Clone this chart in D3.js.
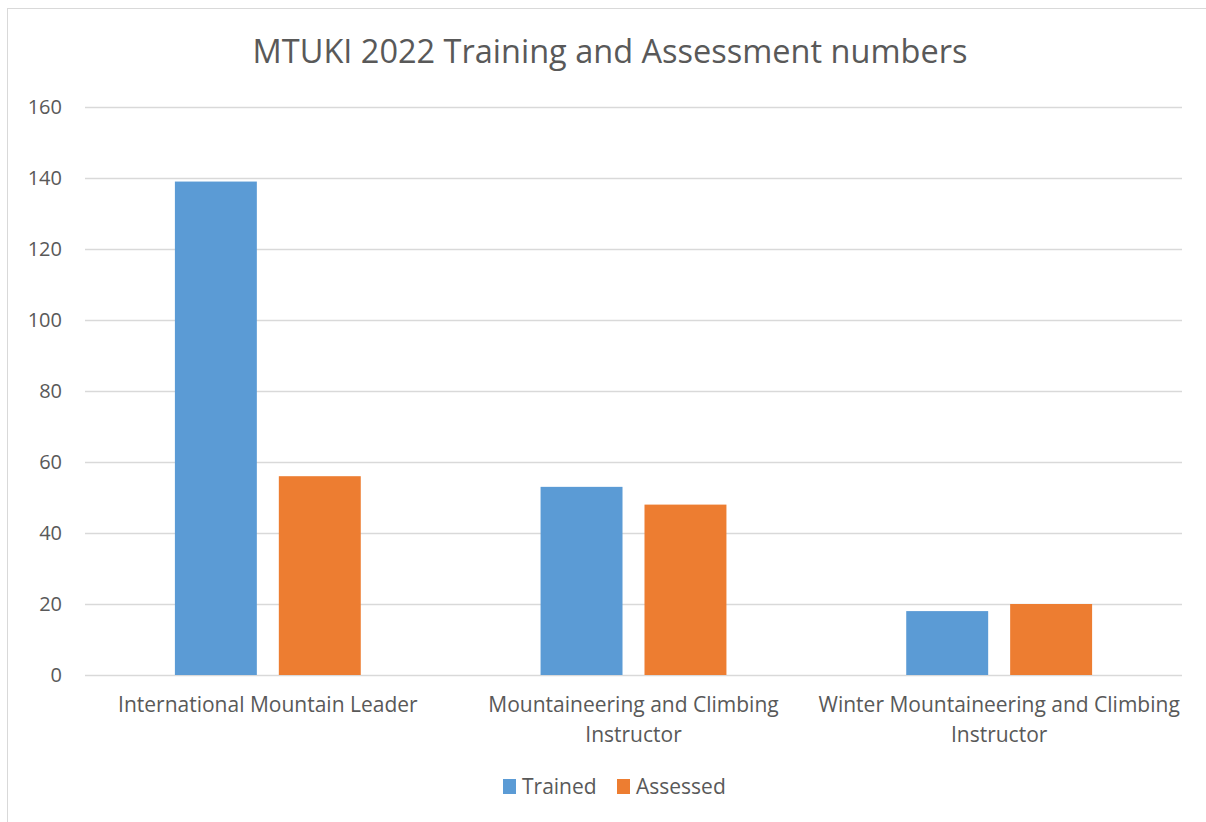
<!DOCTYPE html>
<html>
<head>
<meta charset="utf-8">
<script src="https://cdn.jsdelivr.net/npm/d3@7"></script>
<style>
  body { margin: 0; background: #fff; }
  svg { display: block; font-family: "Open Sans", sans-serif; }
</style>
</head>
<body>
<div id="chart"></div>
<script>
(() => {

  let categories = [
    "International Mountain Leader",
    "Mountaineering and Climbing Instructor",
    "Winter Mountaineering and Climbing Instructor"
  ]
  let series = ["Trained", "Assessed"]
  let trained = [139, 53, 18]
  let assessed = [56, 48, 20]
  let y_ticks = [0, 20, 40, 60, 80, 100, 120, 140, 160]
  let colors = ["#5b9bd5", "#ed7d31"]

  let svg = d3.select("#chart")
  .append("svg")
  .attr("width", 1206)
  .attr("height", 822)

  // chart area border
  svg.append("rect")
  .attr("x", 7.5)
  .attr("y", 8.5)
  .attr("width", 1230)
  .attr("height", 830)
  .style("fill", "none")
  .style("stroke", "#d9d9d9")

  let margin = {top: 107, right: 24, bottom: 147, left: 85}
  let width = 1206 - margin.left - margin.right
  let height = 822 - margin.top - margin.bottom

  let g = svg.append("g")
  .attr("transform", "translate(" + margin.left + "," + margin.top + ")")

  let x0 = d3.scaleBand()
  .domain(categories)
  .range([0, width])
  .padding(0)

  let x1 = d3.scaleBand()
  .domain(series)
  .range([0, x0.bandwidth()])
  .paddingInner(0.2115)
  .paddingOuter(0.865)

  let y = d3.scaleLinear()
  .domain([0, 160])
  .range([height, 0])

  // gridlines
  g.append("g")
  .selectAll("line")
  .data(y_ticks)
  .enter()
  .append("line")
  .attr("x1", 0)
  .attr("x2", width)
  .attr("y1", d => y(d) + 0.5)
  .attr("y2", d => y(d) + 0.5)
  .style("stroke", "#d9d9d9")
  .style("stroke-width", 1.3)

  let y_axis = g.append("g")
  .call(d3.axisLeft(y).tickValues(y_ticks).tickSize(0).tickPadding(23))
  y_axis.select(".domain").remove()
  y_axis.selectAll("text")
  .style("font-family", "'Open Sans', sans-serif")
  .style("font-size", "20px")
  .style("fill", "#595959")

  let rows = categories.map((c, i) => ({cat: c, values: [trained[i], assessed[i]]}))

  g.selectAll(".group")
  .data(rows)
  .enter()
  .append("g")
  .attr("transform", d => "translate(" + x0(d.cat) + ",0)")
  .selectAll("rect")
  .data(d => d.values.map((v, i) => ({key: series[i], value: v, i: i})))
  .enter()
  .append("rect")
  .attr("x", d => x1(d.key))
  .attr("width", x1.bandwidth())
  .attr("y", d => y(d.value))
  .attr("height", d => height - y(d.value))
  .style("fill", d => colors[d.i])

  // category labels, wrapped like the original
  let wrap_width = x0.bandwidth() - 1
  let labels = g.selectAll(".cat_label")
  .data(categories)
  .enter()
  .append("text")
  .attr("class", "cat_label")
  .attr("x", d => x0(d) + x0.bandwidth() / 2)
  .attr("y", height + 37)
  .style("text-anchor", "middle")
  .style("font-size", "21px")
  .style("fill", "#595959")

  labels.each(function(d) {
    let el = d3.select(this)
    let words = d.split(" ")
    let line = []
    let lines = []
    let tmp = el.append("tspan")
    words.forEach(w => {
      line.push(w)
      tmp.text(line.join(" "))
      if (tmp.node().getComputedTextLength() > wrap_width && line.length > 1) {
        line.pop()
        lines.push(line.join(" "))
        line = [w]
      }
    })
    lines.push(line.join(" "))
    tmp.remove()
    lines.forEach((l, i) => {
      el.append("tspan")
      .attr("x", x0(d) + x0.bandwidth() / 2)
      .attr("dy", i == 0 ? 0 : 30)
      .text(l)
    })
  })

  // title
  svg.append("text")
  .attr("x", 610)
  .attr("y", 63)
  .style("text-anchor", "middle")
  .style("font-size", "32.5px")
  .style("fill", "#595959")
  .text("MTUKI 2022 Training and Assessment numbers")

  // legend
  let legend = svg.append("g")
  .attr("transform", "translate(503,779)")
  let legend_x = [0, 114]
  series.forEach((s, i) => {
    legend.append("rect")
    .attr("x", legend_x[i])
    .attr("y", 0)
    .attr("width", 13)
    .attr("height", 15)
    .style("fill", colors[i])
    legend.append("text")
    .attr("x", legend_x[i] + 19)
    .attr("y", 15)
    .style("font-size", "21px")
    .style("fill", "#595959")
    .text(s)
  })

})()
</script>
</body>
</html>
